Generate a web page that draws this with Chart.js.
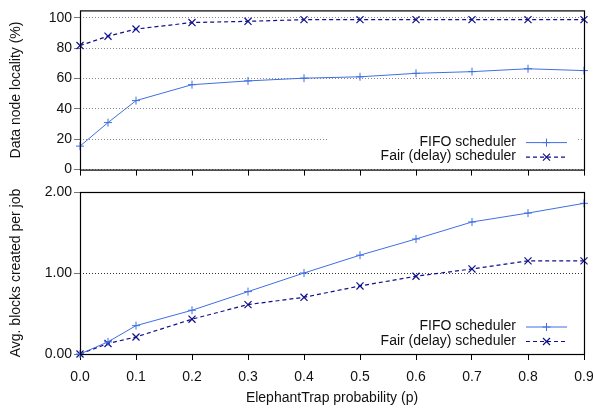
<!doctype html>
<html lang="en">
  <head>
    <meta charset="utf-8">
    <title>ElephantTrap locality</title>
    <style>
      body { margin: 0; background: #fff; }
      .wrap { position: absolute; left: 0; width: 593px; }
      #topWrap { top: 0; height: 180px; }
      #botWrap { top: 180px; height: 231px; }
    </style>
  </head>
  <body>
    <div class="wrap" id="topWrap"><canvas id="topChart" width="593" height="180"></canvas></div>
    <div class="wrap" id="botWrap"><canvas id="botChart" width="593" height="231"></canvas></div>
  </body>
</html>
<script src="https://cdn.jsdelivr.net/npm/chart.js"></script>
<script>
// data
const pValues = [0, 0.05, 0.1, 0.2, 0.3, 0.4, 0.5, 0.6, 0.7, 0.8, 0.9];
const fifoLocality = [15.5, 31, 45.5, 56, 58.5, 60.3, 61.2, 63.5, 64.6, 66.5, 65.3];
const fairLocality = [81.8, 88, 92.7, 97, 97.8, 98.9, 98.9, 98.9, 98.9, 98.9, 98.9];
const fifoBlocks = [0, 0.15, 0.35, 0.54, 0.77, 1.0, 1.22, 1.42, 1.63, 1.74, 1.86];
const fairBlocks = [0, 0.13, 0.21, 0.43, 0.61, 0.70, 0.84, 0.96, 1.05, 1.15, 1.15];

const xTicks = [0, 0.1, 0.2, 0.3, 0.4, 0.5, 0.6, 0.7, 0.8, 0.9];
const xTickLabels = ['0.0', '0.1', '0.2', '0.3', '0.4', '0.5', '0.6', '0.7', '0.8', '0.9'];
const localityTicks = [0, 20, 40, 60, 80, 100];
const localityTickLabels = ['0', '20', '40', '60', '80', '100'];
const blockTicks = [0, 1, 2];
const blockTickLabels = ['0.00', '1.00', '2.00'];

const seriesNames = ['FIFO scheduler', 'Fair (delay) scheduler'];

const FONT = '"Liberation Sans", Arial, sans-serif';
const fifoColor = '#3f6fe2';
const fairColor = '#10108c';

const toPoints = (ys) => pValues.map((x, i) => ({ x: x, y: ys[i] }));

// border box + legend inside the plot, gnuplot style
const frameAndKey = {
    id: 'frameAndKey',
    afterDatasetsDraw(chart, args, opts) {
        const { ctx, chartArea: { left, right, top, bottom } } = chart;
        ctx.save();
        // key box clears grid behind it
        ctx.fillStyle = '#fff';
        ctx.fillRect(328, bottom - 37, 249, 32);

        ctx.font = '14px ' + FONT;
        ctx.textAlign = 'right';
        ctx.textBaseline = 'middle';
        const rows = [bottom - 27.5, bottom - 13];
        rows.forEach((y, i) => {
            ctx.fillStyle = '#111';
            ctx.fillText(seriesNames[i], 516, y);
            ctx.beginPath();
            if (i == 0) {
                ctx.strokeStyle = fifoColor;
                ctx.lineWidth = 1;
                ctx.setLineDash([]);
            } else {
                ctx.strokeStyle = fairColor;
                ctx.lineWidth = 1.2;
                ctx.setLineDash([4, 3]);
            }
            ctx.moveTo(526, y + 0.5);
            ctx.lineTo(567, y + 0.5);
            ctx.stroke();
            ctx.setLineDash([]);
            ctx.beginPath();
            const mx = 546.5;
            if (i == 0) {
                ctx.moveTo(mx - 4, y + 0.5); ctx.lineTo(mx + 4, y + 0.5);
                ctx.moveTo(mx, y - 3.5); ctx.lineTo(mx, y + 4.5);
            } else {
                ctx.moveTo(mx - 3.5, y - 3); ctx.lineTo(mx + 3.5, y + 4);
                ctx.moveTo(mx + 3.5, y - 3); ctx.lineTo(mx - 3.5, y + 4);
            }
            ctx.stroke();
        });

        ctx.strokeStyle = '#000';
        ctx.lineWidth = 1.2;
        ctx.strokeRect(left + 0.5, top + 0.5, right - left, bottom - top);
        ctx.restore();
    }
};

function makeDatasets(fifo, fair) {
    return [
        {
            label: seriesNames[0],
            data: toPoints(fifo),
            borderColor: fifoColor,
            borderWidth: 1,
            pointStyle: 'cross',
            pointRadius: 4,
            pointBorderWidth: 1,
            pointBorderColor: fifoColor,
            tension: 0,
            clip: false
        },
        {
            label: seriesNames[1],
            data: toPoints(fair),
            borderColor: fairColor,
            borderWidth: 1.2,
            borderDash: [4, 3],
            pointStyle: 'crossRot',
            pointRadius: 5,
            pointBorderWidth: 1.2,
            pointBorderColor: fairColor,
            tension: 0,
            clip: false
        }
    ];
}

function xScale(showLabels) {
    return {
        type: 'linear',
        min: 0,
        max: 0.9,
        afterBuildTicks: (scale) => { scale.ticks = xTicks.map(v => ({ value: v })); },
        afterFit: (scale) => {
            scale.height = showLabels ? 57 : 9;
            scale.paddingLeft = 0;
            scale.paddingRight = 0;
        },
        border: { display: false },
        grid: {
            drawOnChartArea: false,
            drawTicks: true,
            tickLength: 6,
            tickColor: '#000'
        },
        ticks: {
            display: showLabels,
            color: '#111',
            padding: 9,
            maxRotation: 0,
            font: { family: FONT, size: 14 },
            callback: (v, i) => xTickLabels[i]
        },
        title: {
            display: showLabels,
            text: 'ElephantTrap probability (p)',
            color: '#111',
            font: { family: FONT, size: 14 },
            padding: { top: 4, bottom: 4 }
        }
    };
}

function yScale(min, max, ticks, labels, title, gridColor) {
    return {
        min: min,
        max: max,
        afterBuildTicks: (scale) => { scale.ticks = ticks.map(v => ({ value: v })); },
        afterFit: (scale) => { scale.width = 80; },
        // v4 takes the grid line dash from border.dash
        border: { display: false, dash: [1, 2] },
        grid: {
            color: gridColor,
            lineWidth: 1,
            tickLength: 6,
            tickColor: '#777',
            tickBorderDash: []
        },
        ticks: {
            color: '#111',
            padding: 2,
            font: { family: FONT, size: 14 },
            callback: (v, i) => labels[i]
        },
        title: {
            display: true,
            text: title,
            color: '#111',
            font: { family: FONT, size: 14 },
            padding: { top: 8, bottom: 0 }
        }
    };
}

const common = {
    responsive: false,
    animation: false,
    devicePixelRatio: 1,
    plugins: { legend: { display: false }, tooltip: { enabled: false } }
};

new Chart(document.querySelector('#topChart'), {
    type: 'line',
    data: { datasets: makeDatasets(fifoLocality, fairLocality) },
    options: Object.assign({}, common, {
        layout: { padding: { left: 0, right: 9, top: 8, bottom: 0 } },
        scales: {
            x: xScale(false),
            y: yScale(0, 105, localityTicks, localityTickLabels, 'Data node locality (%)', '#888')
        }
    }),
    plugins: [frameAndKey]
});

new Chart(document.querySelector('#botChart'), {
    type: 'line',
    data: { datasets: makeDatasets(fifoBlocks, fairBlocks) },
    options: Object.assign({}, common, {
        layout: { padding: { left: 0, right: 9, top: 12, bottom: 0 } },
        scales: {
            x: xScale(true),
            y: yScale(0, 2, blockTicks, blockTickLabels, 'Avg. blocks created per job', '#333')
        }
    }),
    plugins: [frameAndKey]
});
</script>
